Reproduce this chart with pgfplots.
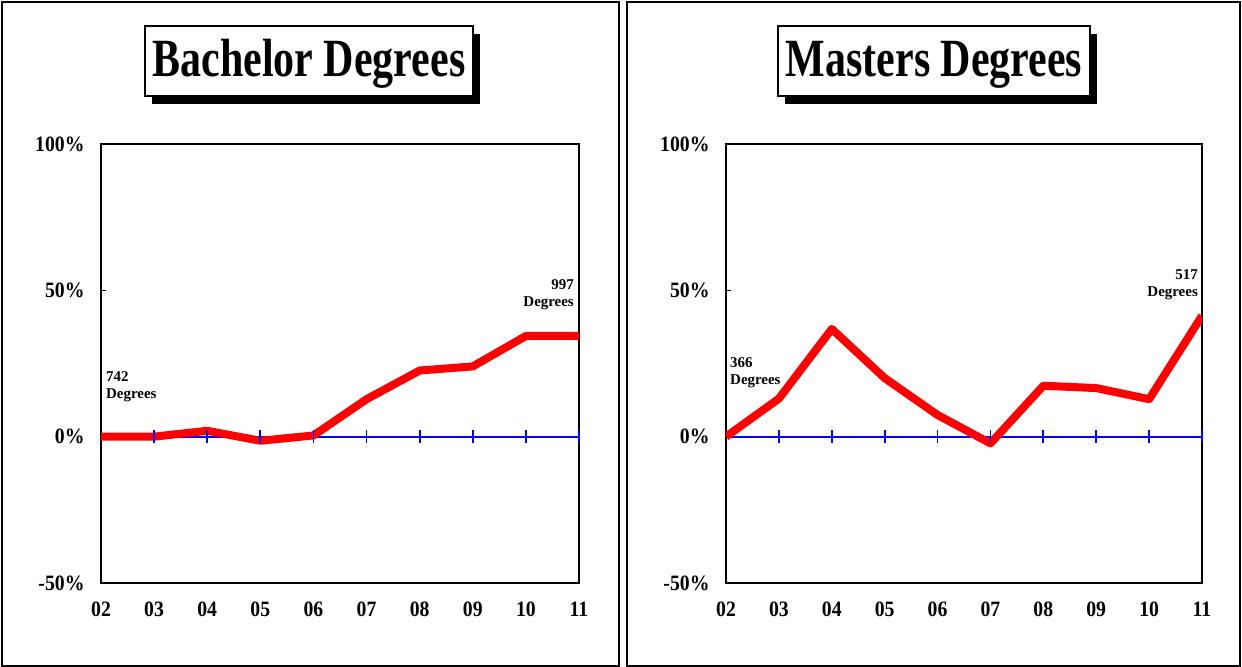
\documentclass[border=0pt]{standalone}
\usepackage{fontspec}
\setmainfont{Liberation Serif}
\newfontfamily\titlefont{Liberation Serif}[FakeStretch=0.78]
\newfontfamily\tickfont{Liberation Serif}[FakeStretch=0.9]
\usepackage{pgfplots}
\usepackage{pgfplotstable}
\pgfplotsset{compat=1.18}

% growth vs. 2002, percent
\pgfplotstableread{
yr pct
2  0
3  0
4  2
5  -1.4
6  0.4
7  12.8
8  22.6
9  24
10 34.4
11 34.4
}\bachelor
\pgfplotstableread{
yr pct
2  0
3  13
4  36.8
5  20
6  7.4
7  -2.3
8  17.4
9  16.6
10 12.8
11 41.3
}\masters

\tikzset{notestyle/.style={inner sep=0, font=\fontsize{15}{17}\selectfont\bfseries}}

\pgfplotsset{
  degstyle/.style={
    scale only axis, anchor=south west,
    height=439bp,
    xmin=2, xmax=11, ymin=-50, ymax=100,
    axis line style={black, line width=1.6bp},
    xtick={2,...,11},
    xticklabels={02,03,04,05,06,07,08,09,10,11},
    major x tick style={draw=none},
    ytick={-50,0,50,100},
    yticklabels={-50\%,0\%,50\%,100\%},
    ytick pos=left, tick align=inside,
    major tick length=5bp,
    major y tick style={black, line width=1.2bp},
    ticklabel style={font=\tickfont\fontsize{22}{26}\selectfont\bfseries},
    yticklabel style={xshift=-13bp},
    xticklabel style={anchor=base, inner sep=0, yshift=-34bp},
  },
}

\begin{document}
\begin{tikzpicture}[x=1bp,y=1bp]
\path[use as bounding box] (0,0) rectangle (1242,667);
% panel frames
\draw[line width=1.8bp] (2,1) rectangle (619,665);
\draw[line width=1.8bp] (627,1) rectangle (1240,665);

% titles with drop shadow
\fill[black] (152,563) rectangle (480,633);
\draw[fill=white, line width=1.5bp] (145,571) rectangle (473,641);
\node[anchor=base, inner sep=0] at (309,590) {\titlefont\fontsize{54}{60}\selectfont\bfseries Bachelor Degrees};
\fill[black] (785,563) rectangle (1097,633);
\draw[fill=white, line width=1.5bp] (778,571) rectangle (1090,641);
\node[anchor=base, inner sep=0] at (934,590) {\titlefont\fontsize{54}{60}\selectfont\bfseries Masters Degrees};

\begin{axis}[degstyle, at={(101bp,84bp)}, width=478bp]
\addplot[blue, line width=1.8bp] coordinates {(2,0) (11,0)};
\addplot[blue, only marks, mark=|, mark size=6.5bp, mark options={line width=1.8bp}]
  coordinates {(3,0) (4,0) (5,0) (6,0) (7,0) (8,0) (9,0) (10,0) (11,0)};
\addplot[red, line width=8bp, line join=round] table[x=yr, y=pct] {\bachelor};
\node[notestyle, anchor=north west, align=left]
  at (axis cs:2,22.3) [xshift=5bp] {742\\Degrees};
\node[notestyle, anchor=north east, align=right]
  at (axis cs:11,53.7) [xshift=-5bp] {997\\Degrees};
\end{axis}

\begin{axis}[degstyle, at={(726bp,84bp)}, width=476bp]
\addplot[blue, line width=1.8bp] coordinates {(2,0) (11,0)};
\addplot[blue, only marks, mark=|, mark size=6.5bp, mark options={line width=1.8bp}]
  coordinates {(3,0) (4,0) (5,0) (6,0) (7,0) (8,0) (9,0) (10,0) (11,0)};
\addplot[red, line width=8bp, line join=round] table[x=yr, y=pct] {\masters};
\node[notestyle, anchor=north west, align=left]
  at (axis cs:2,27) [xshift=4bp] {366\\Degrees};
\node[notestyle, anchor=north east, align=right]
  at (axis cs:11,57) [xshift=-4bp] {517\\Degrees};
\end{axis}
\end{tikzpicture}
\end{document}
